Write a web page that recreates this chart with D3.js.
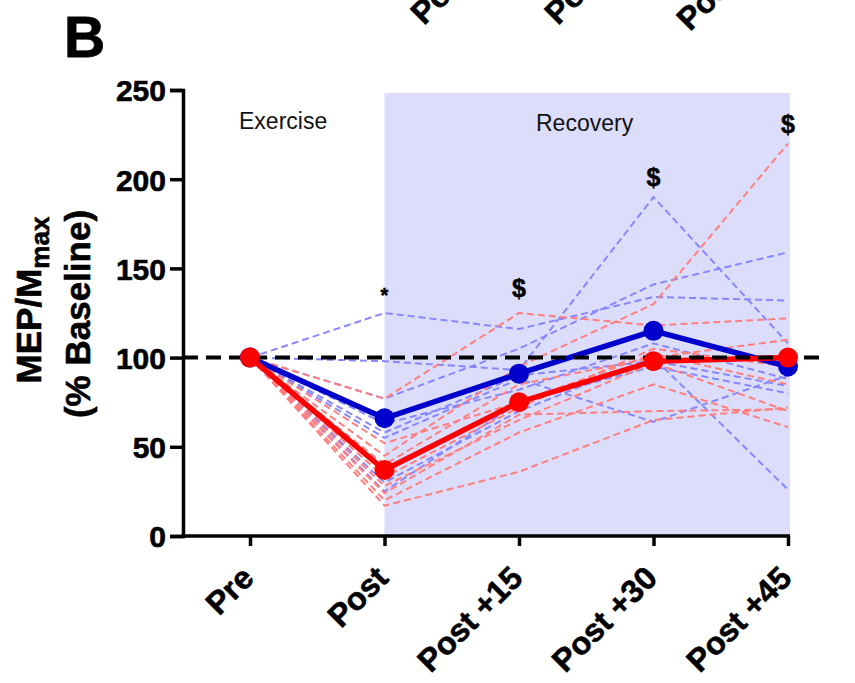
<!DOCTYPE html>
<html>
<head>
<meta charset="utf-8">
<script src="https://cdn.jsdelivr.net/npm/d3@7"></script>
<style>
  html, body { margin: 0; padding: 0; background: #fff; }
  svg { display: block; font-family: "Liberation Sans", Arial, sans-serif; }
</style>
</head>
<body>
<svg id="chart" width="855" height="683"></svg>
<script>
// Time points
const timepoints = ["Pre", "Post", "Post +15", "Post +30", "Post +45"];

// Group means (% baseline)
const blueMean = [100, 66, 91, 115, 95];
const redMean  = [100, 37, 75, 98, 100];

// Individual participants, blue group
const blueSubjects = [
  [100, 125, 116, 134, 132],
  [100,  98,  93, 190, 108],
  [100,  77, 105, 141, 159],
  [100,  63,  82, 108,  88],
  [100,  58,  90,  98,  84],
  [100,  55,  88,  64,  90],
  [100,  30,  70, 100,  26],
  [100,  25,  75,  95,  80]
];

// Individual participants, red group
const redSubjects = [
  [100, 77, 125, 118, 122],
  [100, 45,  95, 130, 220],
  [100, 40,  85, 100, 110],
  [100, 33,  72, 105,  95],
  [100, 28,  65,  97,  70],
  [100, 24,  68,  70,  71],
  [100, 20,  58,  85,  61],
  [100, 17,  36,  65,  72],
  [100, 52,  75, 102,  85]
];

// Significance markers above each time point
const markers = ["", "*", "$", "$", "$"];
const markerValues = [null, 131, 134, 196, 226];

const yTicks = [0, 50, 100, 150, 200, 250];
const baseline = 100;

const svg = d3.select("#chart");

const x = d3.scalePoint().domain(timepoints).range([250, 788]);
const y = d3.scaleLinear().domain([0, 250]).range([536, 90]);

const axisLeftX = 183;
const axisRightX = 790;

// Recovery shading
svg.append("rect")
  .attr("x", x("Post")).attr("y", 93)
  .attr("width", axisRightX - x("Post")).attr("height", y(0) - 93)
  .attr("fill", "#dcdcfb");

// Phase labels
svg.append("text").attr("x", 239).attr("y", 129)
  .attr("font-size", 23).attr("fill", "#111").text("Exercise");
svg.append("text").attr("x", 536).attr("y", 131)
  .attr("font-size", 23).attr("fill", "#111").text("Recovery");

// Panel letter
svg.append("text").attr("x", 64).attr("y", 57)
  .attr("font-size", 57).attr("font-weight", "bold")
  .attr("stroke", "#000").attr("stroke-width", 0.8).text("B");

// Clipped tick labels of the panel above
const upperLabels = [
  { t: "Post +15", x: 424, y: 26 },
  { t: "Post +30", x: 558, y: 26 },
  { t: "Post +45", x: 690, y: 32 }
];
svg.selectAll("text.upper").data(upperLabels).join("text")
  .attr("class", "upper")
  .attr("transform", d => `translate(${d.x},${d.y}) rotate(-45)`)
  .attr("font-size", 32).attr("font-weight", "bold")
  .attr("stroke", "#000").attr("stroke-width", 0.6)
  .text(d => d.t);

const line = d3.line().x((d, i) => x(timepoints[i])).y(d => y(d));

// Individual traces
svg.append("g").selectAll("path").data(blueSubjects).join("path")
  .attr("d", line).attr("fill", "none")
  .attr("stroke", "#8787ff").attr("stroke-width", 2)
  .attr("stroke-dasharray", "7,4");
svg.append("g").selectAll("path").data(redSubjects).join("path")
  .attr("d", line).attr("fill", "none")
  .attr("stroke", "#ff7f7f").attr("stroke-width", 2)
  .attr("stroke-dasharray", "7,4");

// Mean lines
svg.append("path").datum(blueMean).attr("d", line)
  .attr("fill", "none").attr("stroke", "#0000cc").attr("stroke-width", 5.5);
svg.append("path").datum(redMean).attr("d", line)
  .attr("fill", "none").attr("stroke", "#ff0000").attr("stroke-width", 5.5);

// Baseline reference
svg.append("line")
  .attr("x1", axisLeftX).attr("x2", 824)
  .attr("y1", y(baseline)).attr("y2", y(baseline))
  .attr("stroke", "#000").attr("stroke-width", 4)
  .attr("stroke-dasharray", "15,8");

// Mean markers
svg.append("g").selectAll("circle").data(blueMean).join("circle")
  .attr("cx", (d, i) => x(timepoints[i])).attr("cy", d => y(d))
  .attr("r", 10).attr("fill", "#0000cc");
svg.append("g").selectAll("circle").data(redMean).join("circle")
  .attr("cx", (d, i) => x(timepoints[i])).attr("cy", d => y(d))
  .attr("r", 10).attr("fill", "#ff0000");

// Significance symbols
svg.append("g").selectAll("text").data(timepoints.filter((t, i) => markers[i]))
  .join("text")
  .attr("x", t => x(t))
  .attr("y", t => y(markerValues[timepoints.indexOf(t)]))
  .attr("text-anchor", "middle")
  .attr("font-size", t => markers[timepoints.indexOf(t)] === "*" ? 20 : 25)
  .attr("font-weight", "bold")
  .attr("stroke", "#000").attr("stroke-width", 0.5)
  .text(t => markers[timepoints.indexOf(t)]);

// Y axis
const yAxis = svg.append("g")
  .attr("transform", `translate(${axisLeftX},0)`)
  .call(d3.axisLeft(y).tickValues(yTicks).tickSize(13).tickPadding(4));
yAxis.select(".domain").attr("stroke-width", 3.5);
yAxis.selectAll(".tick line").attr("stroke-width", 3.5);
yAxis.selectAll(".tick text")
  .attr("font-size", 30).attr("font-weight", "bold").attr("fill", "#000")
  .attr("stroke", "#000").attr("stroke-width", 0.6)
  .attr("font-family", "'Liberation Sans', Arial, sans-serif")
  .attr("dy", "0.36em");

// X axis
const xAxis = svg.append("g")
  .attr("transform", `translate(0,${y(0)})`)
  .call(d3.axisBottom(x).tickSize(10).tickSizeOuter(0));
xAxis.select(".domain").remove();
xAxis.append("line")
  .attr("x1", axisLeftX - 1.5).attr("x2", axisRightX)
  .attr("stroke", "#000").attr("stroke-width", 3.5);
xAxis.selectAll(".tick line").attr("stroke-width", 3.5);
xAxis.selectAll(".tick text")
  .attr("font-size", 32).attr("font-weight", "bold").attr("fill", "#000")
  .attr("stroke", "#000").attr("stroke-width", 0.6)
  .attr("font-family", "'Liberation Sans', Arial, sans-serif")
  .attr("text-anchor", "end")
  .attr("y", 0).attr("dy", 0)
  .attr("transform", "translate(5,44) rotate(-45)");

// Y axis title
const title = svg.append("g");
const t1 = title.append("text")
  .attr("transform", "translate(41,300) rotate(-90)")
  .attr("text-anchor", "middle")
  .attr("font-size", 35).attr("font-weight", "bold")
  .attr("stroke", "#000").attr("stroke-width", 0.6);
t1.append("tspan").text("MEP/M");
t1.append("tspan").attr("font-size", 26).attr("dy", 8).text("max");
title.append("text")
  .attr("transform", "translate(90,314) rotate(-90)")
  .attr("text-anchor", "middle")
  .attr("font-size", 35).attr("font-weight", "bold")
  .attr("stroke", "#000").attr("stroke-width", 0.6)
  .text("(% Baseline)");
</script>
</body>
</html>
